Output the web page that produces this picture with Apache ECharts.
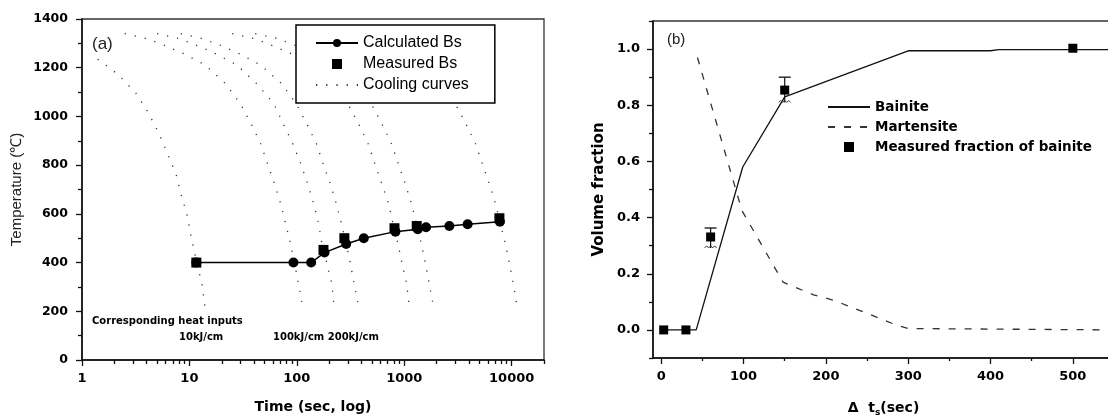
<!DOCTYPE html>
<html><head><meta charset="utf-8">
<script src="https://cdn.jsdelivr.net/npm/echarts@6/dist/echarts.min.js"></script>
<style>html,body{margin:0;padding:0;background:#fff}#c{width:1108px;height:418px}</style>
</head><body><div id="c"></div>
<script>
// ---------- Panel (a): Bs temperature vs time ----------
const calcBs = [[11.6,400],[93,400],[136,400],[181,441],[288,476],[420,500],[828,527],[1336,537],[1596,545],[2630,550],[3890,557],[7770,568]];
const measBs = [[11.6,400],[177,452],[277,500],[811,541],[1307,550],[7690,582]];
const cool1 = [[1.4,1235],[2.16,1173],[3.18,1095],[4.17,1013],[5.24,927],[6.31,843],[7.49,764],[8.34,682],[9.48,598],[10.3,513],[10.8,472],[11.7,400],[13.1,311],[13.9,222]];
const cool2 = [[2.5,1340],[4.0,1320],[6.0,1290],[9.1,1255],[14,1211],[21.5,1136],[29.7,1054],[37.6,969],[46.3,886],[53.7,801],[62,723],[71,639],[79,557],[87.9,472],[95,400],[103.7,311],[113,222]];
const cool3 = [[5,1340],[8,1320],[12,1290],[18,1255],[27.7,1211],[41.9,1136],[60.7,1054],[75,969],[92,886],[110,801],[126,723],[144,639],[160,557],[172,472],[190,400],[212,311],[222,222]];
const cool4 = [[8.3,1340],[13,1320],[20,1290],[30,1255],[46,1211],[71.5,1136],[98,1054],[124,969],[153,886],[177,801],[205,723],[234,639],[261,557],[290,472],[314,400],[342,311],[375,222]];
const cool5 = [[25,1340],[40,1320],[60,1290],[91,1255],[140,1211],[215,1136],[297,1054],[376,969],[463,886],[537,801],[620,723],[717,639],[790,557],[879,472],[950,400],[1055,311],[1110,222]];
const cool6 = [[41,1340],[66,1320],[99,1290],[150,1255],[231,1211],[355,1136],[490,1054],[620,969],[764,886],[886,801],[1023,723],[1172,639],[1304,557],[1450,472],[1568,400],[1711,311],[1866,222]];
const cool7 = [[250,1340],[400,1320],[600,1290],[910,1255],[1400,1211],[2150,1136],[2970,1054],[3760,969],[4630,886],[5370,801],[6200,723],[7100,639],[7900,557],[8790,472],[9500,400],[10370,311],[11200,222]];
const timeTicks = [1,10,100,1000,10000];
const timeMinorTicks = [2,3,4,5,6,7,8,9,20,30,40,50,60,70,80,90,200,300,400,500,600,700,800,900,2000,3000,4000,5000,6000,7000,8000,9000,20000];

// ---------- Panel (b): volume fraction vs delta t ----------
const bainite = [[3,0],[42.5,0],[99,0.58],[150,0.83],[300,0.994],[400,0.994],[410,0.998],[550,0.998]];
const martensite = [[44,0.97],[98,0.425],[148,0.17],[185,0.125],[210,0.105],[245,0.065],[285,0.018],[300,0.005],[550,0.0]];
const measFrac = [[3,0],[30,0],[60,0.331],[150,0.854],[500,1.003]];
const fracErr = [[60,0.292,0.363],[150,0.81,0.90]];
const dtTicks = [0,100,200,300,400,500];
const dtMinorTicks = [50,150,250,350,450,550];
const fracTicks = [0,0.2,0.4,0.6,0.8,1.0];
const fracMinorTicks = [-0.1,0.1,0.3,0.5,0.7,0.9,1.1];

const AX = '#111';
const tickFontX = {color:'#000', fontFamily:'DejaVu Sans', fontWeight:'bold', fontSize:13};
const tickFontY = {color:'#000', fontFamily:'DejaVu Sans', fontWeight:'bold', fontSize:12.5};
const axLine = {show:true, onZero:false, lineStyle:{color:AX, width:1.6}};
const tickLS = {color:AX, width:1.3};
const hiddenLine = {show:false, onZero:false};
const squareIcon = 'path://M0,0L10,0L10,10L0,10Z';

const coolStyle = {color:'#333', width:1.3, type:[1.2,9]};
function coolSeries(d){
  return {type:'line', name:'Cooling curves', xAxisIndex:0, yAxisIndex:0, data:d, symbol:'none',
    lineStyle:coolStyle, itemStyle:{color:'#333'}, z:2, silent:true};
}

const chart = echarts.init(document.getElementById('c'), null, {renderer:'canvas'});
chart.setOption({
  animation:false,
  backgroundColor:'#fff',
  grid:[
    {left:82, top:19, width:462, height:341, show:true, borderColor:'#333', borderWidth:1.3, outerBoundsMode:'none', containLabel:false},
    {left:653, top:21, width:461, height:337, show:true, borderColor:'#333', borderWidth:1.3, outerBoundsMode:'none', containLabel:false}
  ],
  xAxis:[
    {gridIndex:0, type:'log', logBase:10, min:1, max:20000, position:'bottom',
      axisLine:axLine,
      axisTick:{show:true, customValues:timeTicks, length:6, lineStyle:tickLS},
      axisLabel:{customValues:timeTicks, margin:12, formatter:v=>String(Math.round(v)), ...tickFontX},
      splitLine:{show:false},
      name:'Time (sec, log)', nameLocation:'middle', nameGap:40,
      nameTextStyle:{color:'#000', fontFamily:'DejaVu Sans', fontWeight:'bold', fontSize:14}},
    {gridIndex:0, type:'log', logBase:10, min:1, max:20000, position:'bottom',
      axisLine:hiddenLine,
      axisTick:{show:true, customValues:timeMinorTicks, length:4, lineStyle:tickLS},
      axisLabel:{show:false}, splitLine:{show:false}},
    {gridIndex:1, type:'value', min:-10, max:550, position:'bottom',
      axisLine:axLine,
      axisTick:{show:true, customValues:dtTicks, length:6, lineStyle:tickLS},
      axisLabel:{customValues:dtTicks, margin:12, formatter:v=>String(Math.round(v)), ...tickFontX},
      splitLine:{show:false},
      name:'{d|Δ}  {t|t}{s|s}{t|(sec)}', nameLocation:'middle', nameGap:40,
      nameTextStyle:{color:'#000', fontFamily:'DejaVu Sans', fontWeight:'bold', fontSize:14,
        rich:{
          d:{fontFamily:'DejaVu Sans', fontWeight:'bold', fontSize:14, color:'#000', lineHeight:20},
          t:{fontFamily:'DejaVu Sans', fontWeight:'bold', fontSize:14, color:'#000', lineHeight:20},
          s:{fontFamily:'DejaVu Sans', fontWeight:'bold', fontSize:9, color:'#000', lineHeight:20, padding:[10,0,0,0]}
        }}},
    {gridIndex:1, type:'value', min:-10, max:550, position:'bottom',
      axisLine:hiddenLine,
      axisTick:{show:true, customValues:dtMinorTicks, length:3, lineStyle:tickLS},
      axisLabel:{show:false}, splitLine:{show:false}}
  ],
  yAxis:[
    {gridIndex:0, type:'value', min:0, max:1400, interval:200, position:'left',
      axisLine:axLine,
      axisTick:{show:true, length:6, lineStyle:tickLS},
      minorTick:{show:true, splitNumber:2, length:4, lineStyle:tickLS},
      axisLabel:{margin:14, formatter:v=>String(v), ...tickFontY},
      splitLine:{show:false}, minorSplitLine:{show:false},
      name:'Temperature (℃)', nameLocation:'middle', nameGap:58, nameRotate:90,
      nameTextStyle:{color:'#222', fontFamily:'Liberation Sans', fontSize:15}},
    {gridIndex:1, type:'value', min:-0.1, max:1.1, position:'left',
      axisLine:axLine,
      axisTick:{show:true, customValues:fracTicks, length:6, lineStyle:tickLS},
      axisLabel:{customValues:fracTicks, margin:13, formatter:v=>(Math.round(v*10)/10).toFixed(1),
        color:'#000', fontFamily:'DejaVu Sans', fontWeight:'bold', fontSize:13},
      splitLine:{show:false},
      name:'Volume fraction', nameLocation:'middle', nameGap:46, nameRotate:90,
      nameTextStyle:{color:'#000', fontFamily:'DejaVu Sans', fontWeight:'bold', fontSize:15}},
    {gridIndex:1, type:'value', min:-0.1, max:1.1, position:'left',
      axisLine:hiddenLine,
      axisTick:{show:true, customValues:fracMinorTicks, length:4, lineStyle:tickLS},
      axisLabel:{show:false}, splitLine:{show:false}}
  ],
  legend:[
    {left:296, top:25, orient:'vertical', backgroundColor:'#fff', borderColor:'#000', borderWidth:1.5,
      padding:[9,26,9,19], itemWidth:42, itemHeight:10, itemGap:3, selectedMode:false,
      textStyle:{fontFamily:'Liberation Sans', fontSize:16, color:'#000', lineHeight:18},
      data:[
        {name:'Calculated Bs'},
        {name:'Measured Bs', icon:squareIcon},
        {name:'Cooling curves', itemStyle:{opacity:0}}
      ]},
    {left:827, top:99, orient:'vertical', padding:0, itemWidth:42, itemHeight:10, itemGap:4, selectedMode:false,
      textStyle:{fontFamily:'DejaVu Sans', fontWeight:'bold', fontSize:13.5, color:'#000', lineHeight:16},
      data:[
        {name:'Bainite', itemStyle:{opacity:0}},
        {name:'Martensite', itemStyle:{opacity:0}},
        {name:'Measured fraction of bainite', icon:squareIcon}
      ]}
  ],
  graphic:[
    {type:'text', left:92, top:36, style:{text:'(a)', fontFamily:'Liberation Sans', fontSize:17, fill:'#222'}},
    {type:'text', left:667, top:32, style:{text:'(b)', fontFamily:'Liberation Sans', fontSize:15, fill:'#222'}},
    {type:'text', left:92, top:316, style:{text:'Corresponding heat inputs', fontFamily:'DejaVu Sans', fontWeight:'bold', fontSize:10, fill:'#000'}},
    {type:'text', left:179, top:332, style:{text:'10kJ/cm', fontFamily:'DejaVu Sans', fontWeight:'bold', fontSize:10, fill:'#000'}},
    {type:'text', left:273, top:332, style:{text:'100kJ/cm 200kJ/cm', fontFamily:'DejaVu Sans', fontWeight:'bold', fontSize:10, fill:'#000'}}
  ],
  series:[
    coolSeries(cool1), coolSeries(cool2), coolSeries(cool3), coolSeries(cool4),
    coolSeries(cool5), coolSeries(cool6), coolSeries(cool7),
    {type:'line', name:'Calculated Bs', xAxisIndex:0, yAxisIndex:0, data:calcBs,
      symbol:'circle', symbolSize:10, showAllSymbol:true,
      lineStyle:{color:'#000', width:1.5}, itemStyle:{color:'#000', opacity:1}, z:3},
    {type:'scatter', name:'Measured Bs', xAxisIndex:0, yAxisIndex:0, data:measBs,
      symbol:'rect', symbolSize:10, itemStyle:{color:'#000', opacity:1}, z:4},
    {type:'line', name:'Bainite', xAxisIndex:2, yAxisIndex:1, data:bainite, symbol:'none',
      lineStyle:{color:'#111', width:1.3}, itemStyle:{color:'#111'}, z:3},
    {type:'line', name:'Martensite', xAxisIndex:2, yAxisIndex:1, data:martensite, symbol:'none',
      lineStyle:{color:'#333', width:1.3, type:[7,9]}, itemStyle:{color:'#333'}, z:3},
    {type:'scatter', name:'Measured fraction of bainite', xAxisIndex:2, yAxisIndex:1, data:measFrac,
      symbol:'rect', symbolSize:9, itemStyle:{color:'#000', opacity:1}, z:5},
    {type:'custom', xAxisIndex:2, yAxisIndex:1, data:fracErr, encode:{x:0, y:[1,2]}, z:4, silent:true,
      renderItem:function(params, api){
        const x = api.value(0), lo = api.value(1), hi = api.value(2);
        const pHi = api.coord([x, hi]), pLo = api.coord([x, lo]);
        const w = 6;
        const zig = [];
        for (let i = 0; i <= 6; i++) zig.push([pLo[0]-w+i*2, pLo[1] + (i%2 ? -2 : 0)]);
        return {type:'group', children:[
          {type:'line', shape:{x1:pHi[0], y1:pHi[1], x2:pLo[0], y2:pLo[1]}, style:{stroke:'#111', lineWidth:1.2}},
          {type:'line', shape:{x1:pHi[0]-w, y1:pHi[1], x2:pHi[0]+w, y2:pHi[1]}, style:{stroke:'#111', lineWidth:1.3}},
          {type:'polyline', shape:{points:zig}, style:{stroke:'#333', lineWidth:1, fill:null}}
        ]};
      }}
  ]
});
</script></body></html>
